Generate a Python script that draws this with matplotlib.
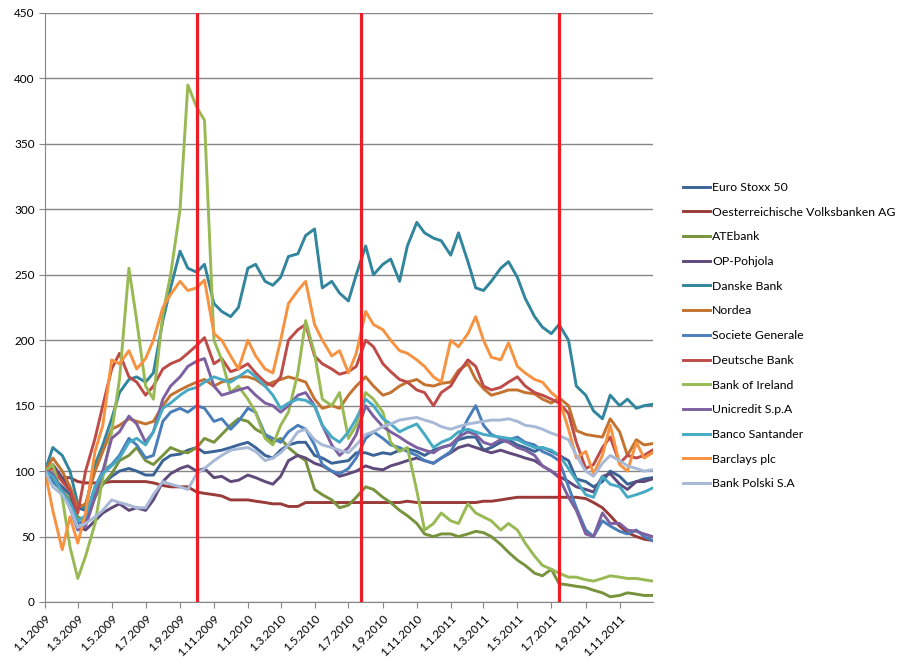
import numpy as np
import pandas as pd
import matplotlib
matplotlib.use("Agg")
import matplotlib.pyplot as plt
import matplotlib.dates as mdates

# semi-monthly sample dates (1st and 15th), plus the last trading day
dates = list(pd.date_range("2009-01-01", "2011-12-15", freq="SMS")) + [pd.Timestamp("2011-12-30")]

euro_stoxx = [100, 95, 88, 82, 72, 70, 82, 90, 96, 100, 102, 100, 97, 97, 108, 112, 113, 116, 118, 114, 115, 116, 118, 120,
              122, 118, 112, 110, 116, 120, 122, 122, 112, 110, 106, 107, 108, 114, 114, 112, 114, 113, 116, 117, 115, 112, 116, 118,
              120, 124, 126, 126, 116, 118, 122, 124, 120, 118, 115, 118, 115, 112, 108, 94, 92, 88, 92, 100, 96, 90, 92, 94, 95]
volksbanken = [100, 95, 95, 95, 92, 91, 91, 91, 92, 92, 92, 92, 92, 91, 89, 88, 88, 88, 84, 83, 82, 81, 78, 78,
               78, 77, 76, 75, 75, 73, 73, 76, 76, 76, 76, 76, 76, 76, 76, 76, 76, 76, 76, 77, 76, 76, 76, 76,
               76, 76, 76, 76, 77, 77, 78, 79, 80, 80, 80, 80, 80, 80, 80, 80, 79, 76, 72, 66, 58, 53, 50, 48, 47]
atebank = [100, 92, 85, 78, 65, 62, 80, 90, 98, 108, 112, 118, 108, 105, 112, 118, 115, 114, 118, 125, 122, 128, 135, 140,
           138, 132, 128, 122, 125, 118, 112, 108, 86, 82, 78, 72, 74, 80, 88, 86, 80, 76, 70, 66, 60, 52, 50, 52,
           52, 50, 52, 54, 53, 50, 44, 38, 32, 28, 22, 20, 25, 14, 13, 12, 11, 9, 7, 4, 5, 7, 6, 5, 5]
op_pohjola = [100, 105, 95, 85, 58, 55, 62, 68, 72, 75, 70, 72, 70, 78, 92, 98, 102, 104, 100, 102, 95, 96, 92, 93,
              97, 95, 92, 90, 96, 108, 112, 110, 106, 104, 100, 96, 98, 100, 104, 102, 101, 104, 106, 108, 110, 108, 106, 110,
              114, 118, 120, 118, 116, 114, 116, 114, 112, 110, 108, 104, 100, 96, 92, 88, 86, 84, 96, 98, 90, 86, 92, 92, 94]
danske = [100, 118, 112, 100, 75, 72, 105, 120, 140, 160, 170, 172, 168, 175, 215, 240, 268, 255, 252, 258, 228, 222, 218, 225,
          255, 258, 245, 242, 248, 264, 266, 280, 285, 240, 245, 236, 230, 250, 272, 250, 258, 262, 245, 272, 290, 282, 278, 276,
          265, 282, 260, 240, 238, 245, 255, 260, 248, 232, 218, 210, 205, 212, 200, 165, 158, 146, 140, 158, 150, 155, 148, 150, 151]
nordea = [100, 110, 100, 88, 72, 75, 100, 115, 132, 135, 140, 138, 136, 138, 150, 158, 162, 165, 168, 170, 165, 168, 170, 172,
          172, 170, 165, 168, 170, 172, 170, 168, 155, 148, 150, 148, 158, 165, 172, 165, 158, 160, 165, 168, 170, 166, 165, 167,
          168, 177, 182, 170, 163, 158, 160, 162, 162, 160, 159, 155, 152, 156, 150, 131, 128, 127, 126, 140, 130, 112, 124, 120, 121]
socgen = [100, 92, 85, 72, 60, 62, 88, 100, 105, 112, 125, 120, 110, 112, 138, 145, 148, 145, 150, 148, 138, 140, 132, 138,
          148, 145, 128, 125, 122, 130, 135, 132, 120, 105, 100, 98, 102, 110, 125, 130, 125, 120, 118, 115, 112, 108, 106, 110,
          115, 125, 140, 150, 135, 128, 125, 124, 126, 122, 120, 115, 112, 108, 88, 72, 55, 50, 62, 58, 54, 52, 55, 50, 47]
deutsche = [100, 102, 92, 85, 68, 100, 125, 150, 178, 190, 172, 168, 158, 165, 178, 182, 185, 190, 196, 202, 182, 186, 176, 178,
            182, 175, 168, 165, 172, 200, 208, 212, 188, 182, 178, 174, 176, 180, 200, 195, 182, 176, 170, 168, 162, 160, 150, 160,
            165, 175, 185, 180, 165, 162, 164, 168, 172, 165, 160, 158, 155, 152, 144, 122, 102, 105, 118, 126, 106, 112, 110, 112, 116]
bank_ireland = [100, 105, 80, 42, 18, 35, 60, 95, 130, 170, 255, 215, 165, 155, 220, 250, 300, 395, 378, 368, 200, 185, 160, 165,
                155, 145, 125, 120, 135, 145, 175, 215, 190, 155, 150, 160, 125, 135, 160, 155, 145, 122, 115, 118, 85, 55, 60, 68,
                62, 60, 75, 68, 65, 62, 55, 60, 55, 45, 35, 28, 25, 22, 19, 19, 17, 16, 18, 20, 19, 18, 18, 17, 16]
unicredit = [100, 98, 85, 72, 55, 58, 80, 100, 125, 130, 142, 136, 122, 130, 155, 165, 172, 180, 184, 186, 165, 158, 160, 162,
             164, 158, 152, 150, 145, 150, 158, 160, 150, 135, 120, 112, 118, 128, 150, 142, 134, 130, 126, 122, 118, 116, 114, 118,
             120, 126, 130, 128, 122, 120, 124, 122, 118, 116, 112, 104, 100, 95, 80, 70, 52, 50, 68, 60, 60, 55, 54, 52, 50]
santander = [100, 96, 84, 76, 62, 66, 88, 98, 104, 110, 122, 125, 120, 130, 148, 152, 158, 162, 164, 168, 172, 170, 168, 172,
             177, 172, 165, 158, 148, 152, 155, 154, 150, 135, 126, 122, 130, 140, 155, 150, 140, 136, 130, 133, 136, 128, 118, 122,
             125, 130, 132, 130, 128, 127, 126, 125, 124, 121, 118, 118, 116, 112, 102, 93, 82, 80, 96, 90, 88, 80, 82, 84, 87]
barclays = [100, 70, 40, 65, 45, 68, 115, 135, 185, 182, 192, 178, 186, 200, 225, 235, 245, 238, 240, 246, 205, 200, 188, 178,
            200, 188, 178, 175, 200, 228, 238, 245, 212, 200, 188, 192, 175, 190, 222, 212, 208, 200, 192, 190, 185, 180, 172, 168,
            200, 195, 205, 218, 200, 187, 185, 198, 180, 175, 170, 168, 160, 155, 132, 110, 115, 98, 112, 135, 105, 100, 122, 110, 114]
bank_polski = [100, 88, 82, 72, 57, 60, 65, 70, 78, 76, 74, 72, 72, 82, 92, 90, 88, 86, 98, 102, 108, 112, 116, 117,
               118, 115, 108, 110, 114, 120, 130, 132, 124, 120, 118, 116, 114, 120, 128, 130, 134, 136, 139, 140, 141, 139, 137, 134,
               132, 134, 136, 137, 138, 139, 139, 140, 138, 135, 134, 132, 129, 127, 124, 112, 100, 96, 106, 112, 108, 104, 102, 100, 101]

names = ["Euro Stoxx 50", "Oesterreichische Volksbanken AG", "ATEbank", "OP-Pohjola", "Danske Bank", "Nordea",
         "Societe Generale", "Deutsche Bank", "Bank of Ireland", "Unicredit S.p.A", "Banco Santander",
         "Barclays plc", "Bank Polski S.A"]
series = [euro_stoxx, volksbanken, atebank, op_pohjola, danske, nordea, socgen, deutsche,
          bank_ireland, unicredit, santander, barclays, bank_polski]
colors = ["#3A6396", "#993B38", "#77933C", "#604A7B", "#31859C", "#C4722F", "#4A7EBB",
          "#BE4B48", "#98B954", "#7D60A0", "#46AAC5", "#F69240", "#A7B9D7"]

# stress test result dates
stress_dates = [pd.Timestamp("2009-10-01"), pd.Timestamp("2010-07-23"), pd.Timestamp("2011-07-15")]

plt.rcParams["font.family"] = ["Lato", "DejaVu Sans"]

fig = plt.figure(figsize=(9.07, 6.67), dpi=100)
ax = fig.add_axes([45 / 907, 1 - 602 / 667, 608 / 907, 589 / 667])

for name, vals, c in zip(names, series, colors):
    ax.plot(dates, vals, color=c, lw=2.1, label=name, solid_joinstyle="round")

for d in stress_dates:
    ax.axvline(d, color="#EE1C25", lw=2.3, zorder=5)

ax.set_ylim(0, 450)
ax.set_yticks(np.arange(0, 451, 50))
ax.set_xlim(pd.Timestamp("2009-01-01"), pd.Timestamp("2011-12-31"))
ax.yaxis.grid(True, color="#868686", lw=1.0)
ax.set_axisbelow(True)

ax.xaxis.set_major_locator(mdates.MonthLocator(bymonth=[1, 3, 5, 7, 9, 11]))
ax.xaxis.set_major_formatter(plt.FuncFormatter(
    lambda v, p: "{d.day}.{d.month}.{d.year}".format(d=mdates.num2date(v))))
for lab in ax.get_xticklabels():
    lab.set_rotation(45)
    lab.set_ha("right")
    lab.set_rotation_mode("anchor")

for s in ["top", "right"]:
    ax.spines[s].set_visible(False)
for s in ["left", "bottom"]:
    ax.spines[s].set_color("#868686")
ax.tick_params(axis="both", colors="#868686", labelcolor="black", labelsize=8.5, length=4, direction="out")

ax.legend(loc="upper left", bbox_to_anchor=(683 / 907, 1 - 182 / 667), bbox_transform=fig.transFigure,
          frameon=False, fontsize=8.8, labelspacing=1.12, handlelength=2.2, handletextpad=0.2,
          borderaxespad=0, borderpad=0)

fig.savefig("out.png", dpi=100)
